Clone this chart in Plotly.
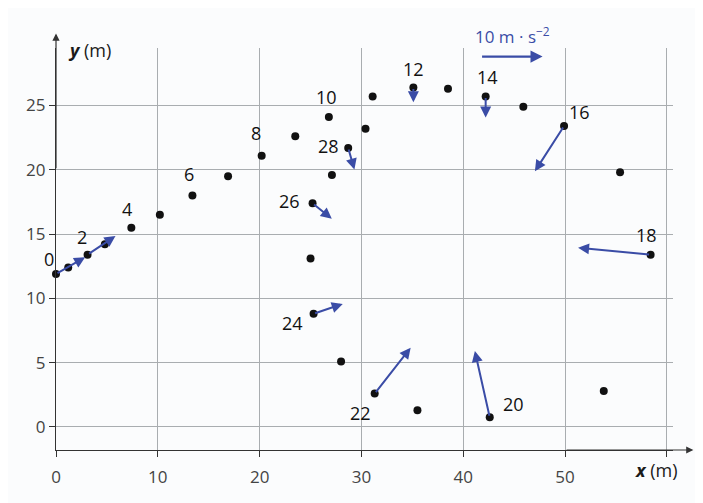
import plotly.graph_objects as go

# Positions of the object every time step (index 0..29)
x_pos = [0.0, 1.2, 3.1, 4.8, 7.4, 10.2, 13.4, 16.9, 20.2, 23.5,
         26.8, 31.1, 35.1, 38.5, 42.2, 45.9, 49.9, 55.4, 58.4, 53.8,
         42.6, 35.5, 31.3, 28.0, 25.3, 25.0, 25.2, 27.1, 28.7, 30.4]
y_pos = [11.9, 12.4, 13.4, 14.2, 15.5, 16.5, 18.0, 19.5, 21.1, 22.6,
         24.1, 25.7, 26.4, 26.3, 25.7, 24.9, 23.4, 19.8, 13.4, 2.8,
         0.75, 1.3, 2.6, 5.1, 8.8, 13.1, 17.4, 19.6, 21.7, 23.2]

# Labelled points (even indices)
label_idx = [0, 2, 4, 6, 8, 10, 12, 14, 16, 18, 20, 22, 24, 26, 28]

# Acceleration vectors (m/s^2) drawn at some points
acc_idx = [0, 2, 12, 14, 16, 18, 20, 22, 24, 26, 28]
acc_x = [4.7, 4.5, 0.0, 0.0, -4.7, -11.7, -2.4, 5.8, 4.7, 3.1, 1.0]
acc_y = [2.7, 3.0, -2.4, -3.4, -7.3, 1.1, 10.7, 7.4, 1.6, -2.5, -3.5]

scale_value = 10  # m/s^2 reference arrow

x_ticks = [0, 10, 20, 30, 40, 50]
x_extra_grid = [60]
y_ticks = [0, 5, 10, 15, 20, 25]

# ---- styling ----
BLUE = "#3a4ca6"
FONT = "Open Sans"
X_RANGE = [0, 60.6]
Y_RANGE = [-1.79, 29.47]
PX_PER_ACC = 6.2          # pixels per m/s^2
PX_X = 10.18              # pixels per x unit
PX_Y = 12.86              # pixels per y unit
SX = PX_PER_ACC / PX_X
SY = PX_PER_ACC / PX_Y

# label offsets (pixels) for each labelled point
label_dx = [-7, -6, -4, -3, -6, -2, 0, 2, 15, -4, 24, -14, -21, -23, -20]
label_dy = [15, 18, 19, 22, 23, 20, 18, 19, 14, 20, 13, -19, -9, 2, 2]

fig = go.Figure()
fig.add_trace(go.Scatter(
    x=x_pos, y=y_pos, mode="markers",
    marker=dict(color="#111111", size=8),
    cliponaxis=False, hoverinfo="skip", showlegend=False))

ann = []
# acceleration arrows
for i, ax_, ay_ in zip(acc_idx, acc_x, acc_y):
    ann.append(dict(
        x=x_pos[i] + ax_ * SX, y=y_pos[i] + ay_ * SY,
        ax=x_pos[i], ay=y_pos[i], xref="x", yref="y", axref="x", ayref="y",
        text="", showarrow=True, arrowhead=2, arrowsize=1.1, arrowwidth=2,
        arrowcolor=BLUE, standoff=0, startstandoff=0))

# point labels
for k, i in enumerate(label_idx):
    ann.append(dict(
        x=x_pos[i], y=y_pos[i], xref="x", yref="y", text=str(i),
        showarrow=False, xshift=label_dx[k], yshift=label_dy[k],
        xanchor="center", yanchor="middle",
        font=dict(family=FONT, size=18, color="#111111")))

# axis arrow extensions
ann.append(dict(x=62.6, y=Y_RANGE[0], ax=50, ay=Y_RANGE[0],
                xref="x", yref="y", axref="x", ayref="y", text="",
                showarrow=True, arrowhead=2, arrowsize=1.2, arrowwidth=1.2,
                arrowcolor="#333333", standoff=0))
ann.append(dict(x=0, y=30.6, ax=0, ay=20,
                xref="x", yref="y", axref="x", ayref="y", text="",
                showarrow=True, arrowhead=2, arrowsize=1.2, arrowwidth=1.2,
                arrowcolor="#333333", standoff=0))

# scale arrow
ann.append(dict(x=41.7 + scale_value * SX, y=28.8, ax=41.7, ay=28.8,
                xref="x", yref="y", axref="x", ayref="y", text="",
                showarrow=True, arrowhead=2, arrowsize=1.1, arrowwidth=2.2,
                arrowcolor=BLUE, standoff=0))
ann.append(dict(x=44.8, y=1.032, xref="x", yref="paper",
                xanchor="center", yanchor="middle",
                text=f"{scale_value} m · s<sup>−2</sup>", showarrow=False,
                font=dict(family=FONT, size=17, color=BLUE)))

# axis titles
ann.append(dict(x=0.055, y=0.995, xref="paper", yref="paper",
                xanchor="center", yanchor="middle",
                text="<b><i>y</i></b> (m)", showarrow=False,
                font=dict(family=FONT, size=18, color="#1a1a1a")))
ann.append(dict(x=0.974, y=-0.05, xref="paper", yref="paper",
                xanchor="center", yanchor="middle",
                text="<b><i>x</i></b> (m)", showarrow=False,
                font=dict(family=FONT, size=18, color="#1a1a1a")))

fig.update_layout(
    width=703, height=503,
    margin=dict(l=48, r=38, t=40, b=61),
    paper_bgcolor="#fbfcfd", plot_bgcolor="#fbfcfd",
    annotations=ann,
    xaxis=dict(range=X_RANGE, tickvals=x_ticks,
               showgrid=True, gridcolor="#a9adb0", gridwidth=1,
               minor=dict(tickvals=x_extra_grid, showgrid=True,
                          gridcolor="#a9adb0", gridwidth=1,
                          ticks="outside", ticklen=6, tickcolor="#333333"),
               zeroline=False, showline=True, linecolor="#333333",
               linewidth=1.2, ticks="outside", ticklen=6,
               tickcolor="#333333",
               tickfont=dict(family=FONT, size=17, color="#444444"),
               ticklabelstandoff=5),
    yaxis=dict(range=Y_RANGE, tickvals=y_ticks,
               showgrid=True, gridcolor="#a9adb0", gridwidth=1,
               zeroline=False, showline=True, linecolor="#333333",
               linewidth=1.2, ticks="outside", ticklen=6,
               tickcolor="#333333",
               tickfont=dict(family=FONT, size=17, color="#444444")),
)

fig.write_html("out.html")
